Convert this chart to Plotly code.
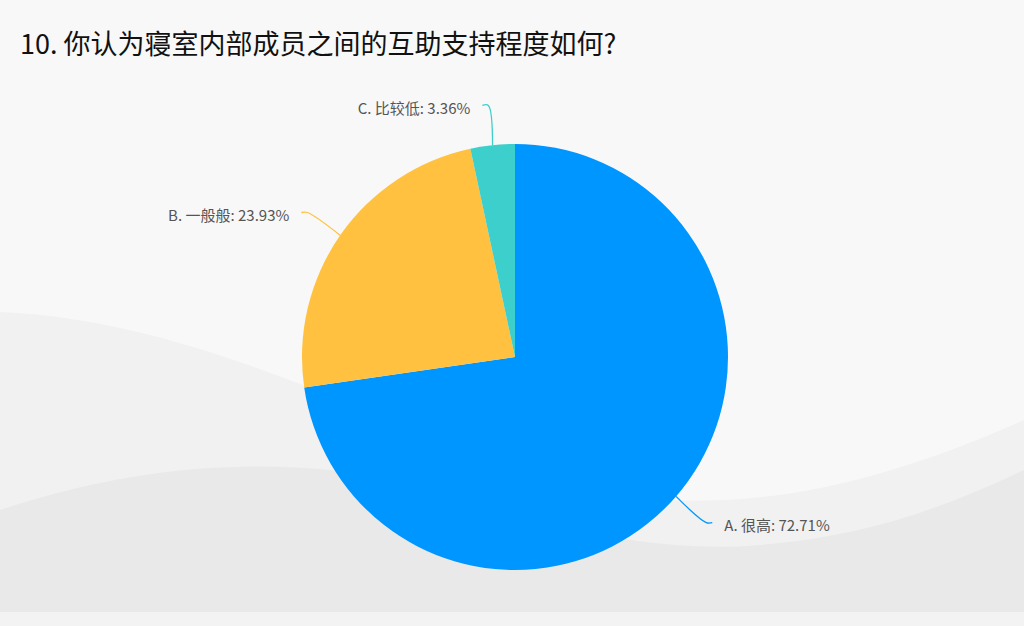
import math
import plotly.graph_objects as go

# data
labels = ["A. 很高", "B. 一般般", "C. 比较低"]
values = [72.71, 23.93, 3.36]
colors = ["#0096FF", "#FFC13F", "#3CCFCB"]
title = "10. 你认为寝室内部成员之间的互助支持程度如何?"

W, H = 1024, 626
cx, cy, r = 515, 357, 213
FONT = "Noto Sans CJK SC"

fig = go.Figure()

fig.add_trace(go.Pie(
    labels=labels, values=values, sort=False, direction="clockwise",
    rotation=0, marker=dict(colors=colors), textinfo="none",
    hoverinfo="label+percent", showlegend=False,
    domain=dict(x=[(cx - r) / W, (cx + r) / W],
                y=[(H - cy - r) / H, (H - cy + r) / H]),
))

# leader lines + labels, placed from the slice mid angles
total = sum(values)
start = 90.0
for lab, v, col in zip(labels, values, colors):
    span = v / total * 360
    mid = math.radians(start - span / 2)
    start -= span
    dx, dy = math.cos(mid), -math.sin(mid)
    p0 = (cx + r * dx, cy + r * dy)
    p1 = (cx + (r + 40) * dx, cy + (r + 40) * dy)
    side = 1 if dx >= 0 else -1
    p2 = (p1[0] + 6 * side, p1[1])
    fig.add_trace(go.Scatter(
        x=[p0[0], p1[0], p2[0]], y=[p0[1], p1[1], p2[1]],
        mode="lines", line=dict(color=col, width=1.3, shape="spline"),
        hoverinfo="skip", showlegend=False,
    ))
    fig.add_trace(go.Scatter(
        x=[p2[0] + 12 * side], y=[p2[1] + 5], mode="text",
        text=[f"{lab}: {v:.2f}%"],
        textposition="middle right" if side > 0 else "middle left",
        textfont=dict(family=FONT, size=15, color="#555555"),
        hoverinfo="skip", showlegend=False,
    ))

# soft background waves
shapes = [
    dict(type="path", xref="x", yref="y", layer="below", line_width=0,
         fillcolor="#f1f1f1",
         path="M 0 312 C 180 320, 330 400, 520 470 C 650 515, 800 520, 1024 420 L 1024 626 L 0 626 Z"),
    dict(type="path", xref="x", yref="y", layer="below", line_width=0,
         fillcolor="#e9e9e9",
         path="M 0 510 C 120 470, 230 460, 330 470 C 420 480, 600 560, 760 545 C 880 535, 960 500, 1024 470 L 1024 612 L 0 612 Z"),
    dict(type="rect", xref="x", yref="y", layer="below", line_width=0,
         fillcolor="#f3f3f3", x0=0, x1=W, y0=612, y1=H),
]

fig.update_layout(
    width=W, height=H,
    margin=dict(l=0, r=0, t=0, b=0),
    paper_bgcolor="#f8f8f8", plot_bgcolor="rgba(0,0,0,0)",
    xaxis=dict(range=[0, W], visible=False, fixedrange=True),
    yaxis=dict(range=[H, 0], visible=False, fixedrange=True),
    shapes=shapes,
    annotations=[dict(
        text=title, xref="x", yref="y", x=18, y=42,
        xanchor="left", yanchor="middle", showarrow=False,
        font=dict(family=FONT, size=27, color="#111111"),
    )],
)

fig.write_html("out.html", config={"displayModeBar": False},
               post_script="document.body.style.margin='0';")
